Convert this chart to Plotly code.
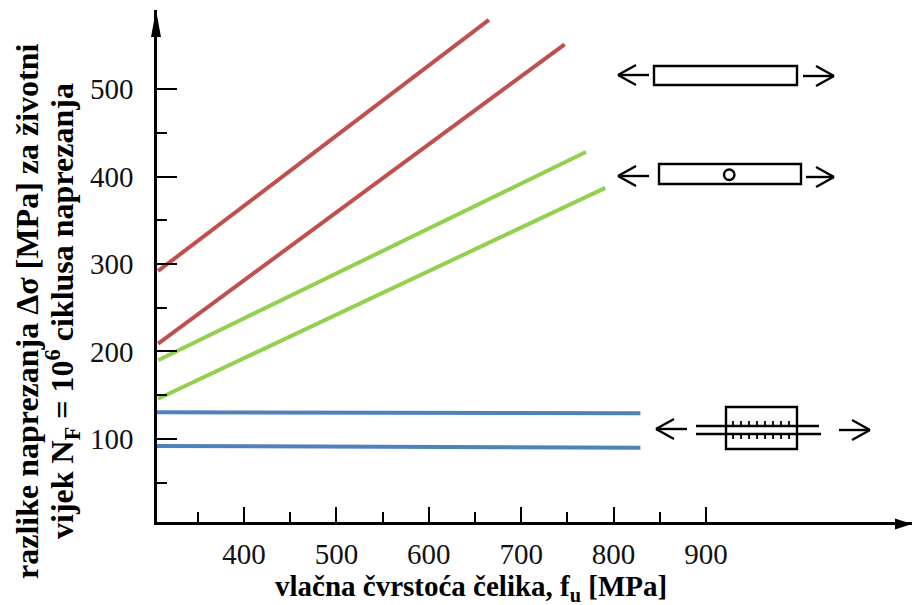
import plotly.graph_objects as go

W, H = 912, 605
L, R, T, B = 157, 912, 10, 522

# --- data (fu in MPa, stress range in MPa) ---
red_upper_x = [307, 665]
red_upper_y = [292, 579]
red_lower_x = [307, 747]
red_lower_y = [209, 551]
green_upper_x = [307, 770]
green_upper_y = [190, 428]
green_lower_x = [307, 791]
green_lower_y = [146, 387]
blue_upper_x = [305.8, 829]
blue_upper_y = [130.5, 129.5]
blue_lower_x = [305.8, 829]
blue_lower_y = [92, 90]

x_ticks = [400, 500, 600, 700, 800, 900]
x_minor = [350, 450, 550, 650, 750, 850]
y_ticks = [100, 200, 300, 400, 500]
y_minor = [50, 150, 250, 350, 450]

RED, GREEN, BLUE = "#C0504D", "#92D050", "#4F81BD"
SERIF = "Liberation Serif"

fig = go.Figure()
for xs, ys, c in [
    (red_upper_x, red_upper_y, RED),
    (red_lower_x, red_lower_y, RED),
    (green_upper_x, green_upper_y, GREEN),
    (green_lower_x, green_lower_y, GREEN),
    (blue_upper_x, blue_upper_y, BLUE),
    (blue_lower_x, blue_lower_y, BLUE),
]:
    fig.add_trace(go.Scatter(x=xs, y=ys, mode="lines", showlegend=False,
                             line=dict(color=c, width=4), hoverinfo="skip"))


# helpers for the schematic pictograms, placed in page pixels
def px(x):
    return (x - L) / (R - L)


def py(y):
    return (B - y) / (B - T)


shapes = []


def seg(x0, y0, x1, y1, w=2.4):
    shapes.append(dict(type="line", xref="paper", yref="paper",
                       x0=px(x0), y0=py(y0), x1=px(x1), y1=py(y1),
                       line=dict(color="black", width=w), layer="above"))


def rect(x0, y0, x1, y1, w=2.4):
    shapes.append(dict(type="rect", xref="paper", yref="paper",
                       x0=px(x0), y0=py(y0), x1=px(x1), y1=py(y1),
                       line=dict(color="black", width=w), layer="above"))


def arrow(x_from, x_tip, y):
    d = 18 if x_tip > x_from else -18
    seg(x_from, y, x_tip, y)
    seg(x_tip - d, y - 10, x_tip, y)
    seg(x_tip - d, y + 10, x_tip, y)


# plain plate
rect(654, 66, 797, 85)
arrow(649, 618, 75)
arrow(803, 834, 76)
# plate with hole
rect(659, 164, 801, 184)
shapes.append(dict(type="circle", xref="paper", yref="paper",
                   x0=px(724), y0=py(169.5), x1=px(734.5), y1=py(180),
                   line=dict(color="black", width=2.4), layer="above"))
arrow(649, 618, 176)
arrow(806, 834, 177)
# bolt in a block
rect(726, 407, 797, 449)
seg(696, 426, 819, 426)
seg(696, 434, 821, 434)
for tx in [733, 741, 749, 757, 765, 773, 781, 789]:
    seg(tx, 421, tx, 426, 1.8)
    seg(tx, 434, tx, 439, 1.8)
arrow(687, 656, 429)
arrow(839, 870, 430)

# axis arrow heads
shapes.append(dict(type="path", xref="paper", yref="paper", fillcolor="black",
                   line=dict(width=0), layer="above",
                   path=f"M {px(156)} {py(10)} L {px(151)} {py(37)} L {px(161)} {py(37)} Z"))
shapes.append(dict(type="path", xref="paper", yref="paper", fillcolor="black",
                   line=dict(width=0), layer="above",
                   path=f"M {px(912)} {py(524)} L {px(895)} {py(518.5)} L {px(895)} {py(529.5)} Z"))

annotations = [
    dict(text="razlike naprezanja Δσ [MPa] za životni", x=px(27), y=py(311), textangle=-90, size=32),
    dict(text="vijek N<sub>F</sub> = 10<sup>6</sup> ciklusa naprezanja", x=px(62), y=py(311), textangle=-90, size=32),
    dict(text="vlačna čvrstoća čelika, f<sub>u</sub> [MPa]", x=px(471), y=py(588), textangle=0, size=29),
]
for a in annotations:
    size = a.pop("size")
    a.update(xref="paper", yref="paper", showarrow=False, xanchor="center", yanchor="middle",
             font=dict(family=SERIF, size=size, color="black"))
    a["text"] = f"<b>{a['text']}</b>"

fig.update_layout(
    width=W, height=H, autosize=False,
    margin=dict(l=L, r=W - R, t=T, b=H - B, pad=0),
    paper_bgcolor="white", plot_bgcolor="white",
    showlegend=False, shapes=shapes, annotations=annotations,
    xaxis=dict(range=[305.8, 1123], showgrid=False, zeroline=False, showline=True,
               linecolor="black", linewidth=2.5, ticks="inside", ticklen=15, tickwidth=1.8,
               tickcolor="black", tickvals=x_ticks, ticktext=[str(v) for v in x_ticks],
               ticklabelstandoff=4,
               minor=dict(tickvals=x_minor, ticks="inside", ticklen=10, tickwidth=1.5,
                          tickcolor="black"),
               tickfont=dict(family=SERIF, size=29, color="#111111")),
    yaxis=dict(range=[5.1, 590.3], showgrid=False, zeroline=False, showline=True,
               linecolor="black", linewidth=2.5, ticks="inside", ticklen=20, tickwidth=1.8,
               tickcolor="black", tickvals=y_ticks, ticktext=[str(v) for v in y_ticks],
               ticklabelstandoff=15,
               minor=dict(tickvals=y_minor, ticks="inside", ticklen=10, tickwidth=1.5,
                          tickcolor="black"),
               tickfont=dict(family=SERIF, size=29, color="#111111")),
)

fig.write_html("out.html", config={"displayModeBar": False},
               post_script="document.body.style.margin='0';")
